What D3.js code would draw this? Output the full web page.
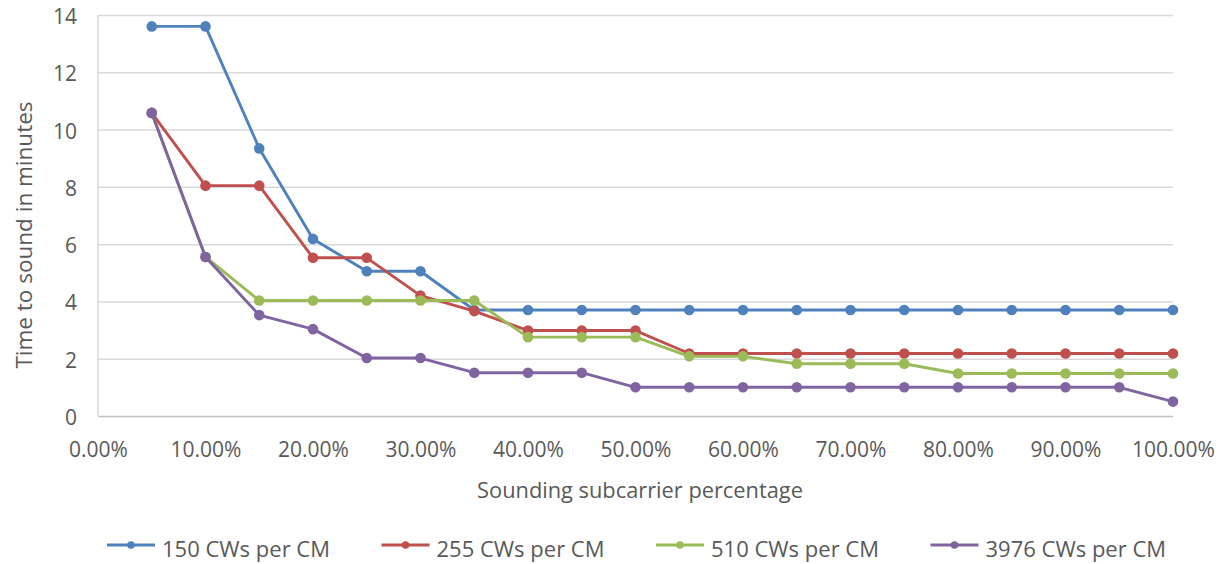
<!DOCTYPE html>
<html>
<head>
<meta charset="utf-8">
<script src="https://cdn.jsdelivr.net/npm/d3@7"></script>
<style>
  body { margin: 0; background: #fff; }
  text { font-family: "Open Sans", sans-serif; fill: #595959; }
</style>
</head>
<body>
<div id="chart"></div>
<script>
const percents = [5, 10, 15, 20, 25, 30, 35, 40, 45, 50, 55, 60, 65, 70, 75, 80, 85, 90, 95, 100];

const cw150 = [13.62, 13.62, 9.36, 6.2, 5.07, 5.07, 3.72, 3.72, 3.72, 3.72, 3.72, 3.72, 3.72, 3.72, 3.72, 3.72, 3.72, 3.72, 3.72, 3.72];
const cw255 = [10.6, 8.06, 8.06, 5.54, 5.54, 4.22, 3.68, 3.0, 3.0, 3.0, 2.2, 2.2, 2.2, 2.2, 2.2, 2.2, 2.2, 2.2, 2.2, 2.2];
const cw510 = [10.6, 5.57, 4.05, 4.05, 4.05, 4.05, 4.05, 2.77, 2.77, 2.77, 2.1, 2.1, 1.84, 1.84, 1.84, 1.5, 1.5, 1.5, 1.5, 1.5];
const cw3976 = [10.6, 5.57, 3.54, 3.05, 2.04, 2.04, 1.53, 1.53, 1.53, 1.02, 1.02, 1.02, 1.02, 1.02, 1.02, 1.02, 1.02, 1.02, 1.02, 0.52];

const seriesNames = ["150 CWs per CM", "255 CWs per CM", "510 CWs per CM", "3976 CWs per CM"];
const seriesColors = ["#4F81BD", "#C0504D", "#9BBB59", "#8064A2"];
const xTicks = [0, 10, 20, 30, 40, 50, 60, 70, 80, 90, 100];
const yTicks = [0, 2, 4, 6, 8, 10, 12, 14];

const series = [cw150, cw255, cw510, cw3976].map((vals, i) => ({
  name: seriesNames[i],
  color: seriesColors[i],
  points: vals.map((v, j) => ({ x: percents[j], y: v }))
}));

const width = 1228, height = 564;

const svg = d3.select("#chart")
  .append("svg")
  .attr("width", width)
  .attr("height", height);

const x = d3.scaleLinear().domain([0, 100]).range([98, 1173]);
const y = d3.scaleLinear().domain([0, 14]).range([416.5, 15.5]);

// gridlines
svg.append("g")
  .selectAll("line")
  .data(yTicks.filter(d => d > 0))
  .join("line")
  .attr("x1", x(0))
  .attr("x2", x(100))
  .attr("y1", d => y(d))
  .attr("y2", d => y(d))
  .attr("stroke", "#D9D9D9")
  .attr("stroke-width", 1.5);

// axis lines
svg.append("line")
  .attr("x1", x(0)).attr("x2", x(100))
  .attr("y1", y(0)).attr("y2", y(0))
  .attr("stroke", "#BFBFBF").attr("stroke-width", 1.5);
svg.append("line")
  .attr("x1", x(0)).attr("x2", x(0))
  .attr("y1", y(0)).attr("y2", y(14))
  .attr("stroke", "#D9D9D9").attr("stroke-width", 1.5);

// y tick labels
const yAxis = svg.append("g")
  .attr("transform", `translate(${x(0)},0)`)
  .call(d3.axisLeft(y).tickValues(yTicks).tickSize(0).tickPadding(21));
yAxis.select(".domain").remove();
yAxis.selectAll("text")
  .style("font-size", "21px")
  .attr("dy", "0.38em")
  .attr("fill", "#595959");

// x tick labels
const xAxis = svg.append("g")
  .attr("transform", `translate(0,${y(0)})`)
  .call(d3.axisBottom(x).tickValues(xTicks).tickSize(0).tickPadding(40)
    .tickFormat(d => d.toFixed(2) + "%"));
xAxis.select(".domain").remove();
xAxis.selectAll("text")
  .style("font-size", "21px")
  .attr("dy", "0")
  .attr("fill", "#595959");

// axis titles
svg.append("text")
  .attr("x", 640)
  .attr("y", 498)
  .attr("text-anchor", "middle")
  .style("font-size", "21.8px")
  .text("Sounding subcarrier percentage");

svg.append("text")
  .attr("transform", "translate(32,235) rotate(-90)")
  .attr("text-anchor", "middle")
  .style("font-size", "22.5px")
  .text("Time to sound in minutes");

// lines and markers
const line = d3.line().x(d => x(d.x)).y(d => y(d.y));

const g = svg.append("g");
series.forEach(s => {
  g.append("path")
    .datum(s.points)
    .attr("d", line)
    .attr("fill", "none")
    .attr("stroke", s.color)
    .attr("stroke-width", 2.9)
    .attr("stroke-linejoin", "round");
  g.selectAll(null)
    .data(s.points)
    .join("circle")
    .attr("cx", d => x(d.x))
    .attr("cy", d => y(d.y))
    .attr("r", 5.3)
    .attr("fill", s.color);
});

// legend
const legend = svg.append("g")
  .selectAll("g")
  .data(series)
  .join("g")
  .attr("transform", (d, i) => `translate(${107 + i * 274.5},545)`);

legend.append("line")
  .attr("x1", 0).attr("x2", 48)
  .attr("stroke", d => d.color)
  .attr("stroke-width", 2.9);
legend.append("circle")
  .attr("cx", 24)
  .attr("r", 3.8)
  .attr("fill", d => d.color);
legend.append("text")
  .attr("x", 55)
  .attr("y", 11.5)
  .style("font-size", "22px")
  .text(d => d.name);
</script>
</body>
</html>
